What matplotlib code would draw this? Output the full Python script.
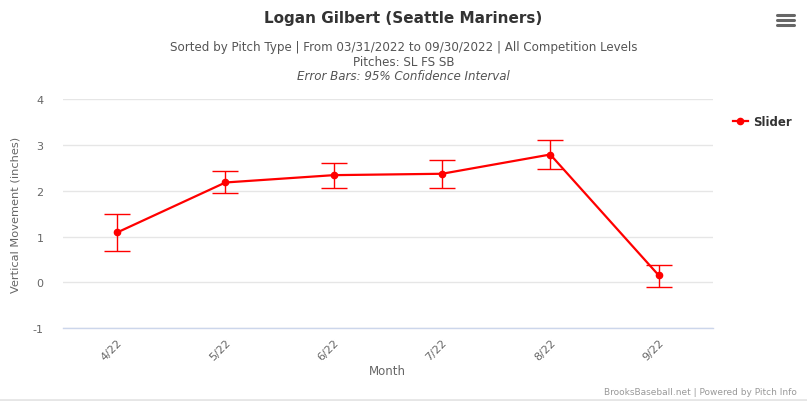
import matplotlib.pyplot as plt
from matplotlib.lines import Line2D

months = ["4/22", "5/22", "6/22", "7/22", "8/22", "9/22"]
slider = [1.09, 2.18, 2.34, 2.37, 2.79, 0.16]
slider_low = [0.68, 1.94, 2.07, 2.07, 2.48, -0.09]
slider_high = [1.50, 2.42, 2.61, 2.67, 3.11, 0.37]
y_ticks = [-1, 0, 1, 2, 3, 4]

RED = "#ff0000"

fig = plt.figure(figsize=(8.07, 4.02), dpi=100)
ax = fig.add_axes([0.0781, 0.1808, 0.805, 0.5704])

x = list(range(len(months)))
err_lo = [v - lo for v, lo in zip(slider, slider_low)]
err_hi = [hi - v for v, hi in zip(slider, slider_high)]

ax.errorbar(x, slider, yerr=[err_lo, err_hi], fmt="none", ecolor=RED,
            elinewidth=1, capsize=9.5, capthick=1, zorder=3)
ax.plot(x, slider, color=RED, lw=1.6, marker="o", ms=4.5, zorder=4)

ax.set_xlim(-0.5, len(months) - 0.5)
ax.set_ylim(-1, 4)
ax.set_yticks(y_ticks)
ax.set_yticklabels([str(t) for t in y_ticks])
ax.set_xticks(x)
ax.set_xticklabels(months, rotation=45, ha="right", rotation_mode="anchor")

ax.grid(axis="y", color="#e6e6e6", lw=1)
ax.set_axisbelow(True)
for s in ["top", "right", "left"]:
    ax.spines[s].set_visible(False)
ax.spines["bottom"].set_color("#ccd6eb")
ax.spines["bottom"].set_linewidth(1)
ax.tick_params(axis="both", length=0, colors="#666666", labelsize=8)
ax.tick_params(axis="y", pad=14)
ax.tick_params(axis="x", pad=6)

ax.set_ylabel("Vertical Movement (inches)", color="#666666", fontsize=8.2)
ax.yaxis.set_label_coords(-43 / 650, 0.5)
ax.set_xlabel("Month", color="#666666", fontsize=8.5, labelpad=2)

# titles
fig.text(0.5, 1 - 18 / 402, "Logan Gilbert (Seattle Mariners)", ha="center", va="center",
         fontsize=11, fontweight="bold", color="#333333")
fig.text(0.5, 1 - 47 / 402,
         "Sorted by Pitch Type | From 03/31/2022 to 09/30/2022 | All Competition Levels",
         ha="center", va="center", fontsize=8.6, color="#555555")
fig.text(0.5, 1 - 62 / 402, "Pitches: SL FS SB", ha="center", va="center",
         fontsize=8.6, color="#555555")
fig.text(0.5, 1 - 77 / 402, "Error Bars: 95% Confidence Interval", ha="center", va="center",
         fontsize=8.6, color="#555555", style="italic")

# legend
handle = Line2D([], [], color=RED, lw=1.6, marker="o", ms=4.5)
fig.legend([handle], ["Slider"], loc="center left", bbox_to_anchor=(722 / 807, 1 - 123 / 402),
           frameon=False, handlelength=1.3, handletextpad=0.4,
           labelcolor="#333333", prop={"weight": "semibold", "size": 8.5})

# menu icon
for yy in [16, 21, 26]:
    fig.add_artist(Line2D([777 / 807, 794 / 807], [1 - yy / 402, 1 - yy / 402],
                          color="#666666", lw=2.2, solid_capstyle="round"))

# credits
fig.text(797 / 807, 1 - 393 / 402, "BrooksBaseball.net | Powered by Pitch Info",
         ha="right", va="center", fontsize=6.5, color="#999999")
fig.add_artist(Line2D([0, 1], [1 - 401 / 402, 1 - 401 / 402], color="#e6e6e6", lw=2))

fig.savefig("out.png", dpi=100)
